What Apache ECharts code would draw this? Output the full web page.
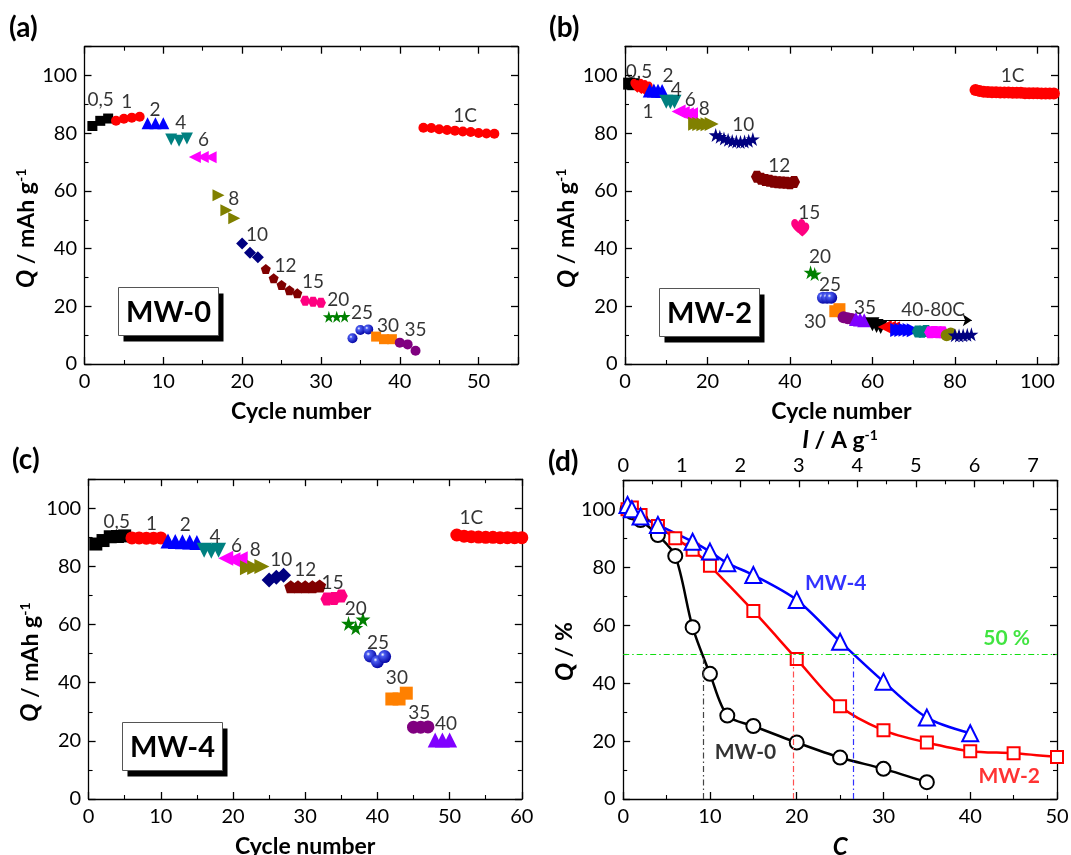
<!DOCTYPE html>
<html>
<head>
<meta charset="utf-8">
<title>Rate capability MW-0 / MW-2 / MW-4</title>
<script src="https://cdn.jsdelivr.net/npm/echarts@6/dist/echarts.min.js"></script>
<style>
  html, body { margin: 0; padding: 0; background: #fff; }
  #chart { width: 1071px; height: 855px; }
</style>
</head>
<body>
<div id="chart"></div>
<script>
// ---- values ----
// (a) MW-0 : first cycle of every rate step, capacities in mAh/g
const mw0Start = [1, 4, 8, 11, 14, 17, 20, 23, 28, 31, 34, 37, 40, 43];
const mw0Q = [
  [82.5, 84.3, 85.1],
  [84.3, 85.0, 85.4, 85.7],
  [83.5, 83.5, 83.5],
  [77.8, 77.4, 78.2],
  [71.8, 71.8, 71.7],
  [58.5, 53.3, 50.5],
  [41.8, 38.6, 37.0],
  [32.9, 29.7, 27.4, 25.6, 24.5],
  [21.9, 21.6, 21.2],
  [16.4, 16.4, 16.5],
  [8.9, 11.8, 12.0],
  [9.5, 8.6, 8.6],
  [7.4, 6.8, 4.6],
  [81.9, 81.8, 81.4, 81.1, 80.9, 80.6, 80.4, 80.1, 79.9, 79.8]
];
const mw0LabelText = ['0,5', '1', '2', '4', '6', '8', '10', '12', '15', '20', '25', '30', '35', '1C'];
const mw0LabelPos = [[2.05, 91.4], [5.35, 90.9], [8.94, 88.2], [12.2, 83.6], [15.1, 77.6], [18.95, 57.4],
  [21.9, 44.7], [25.5, 33.9], [29.0, 28.5], [32.2, 22.2], [35.2, 17.6], [38.5, 13.2], [42.0, 11.8], [48.3, 86.0]];

// (b) MW-2
const mw2Start = [1, 3, 6, 10, 13, 17, 22, 32, 42, 45, 48, 51, 53, 56, 60, 63, 66, 71, 74, 78, 80, 85];
const mw2Q = [
  [97.2, 97.0],
  [96.5, 96.0, 95.5],
  [94.8, 94.8, 94.7, 94.6],
  [90.9, 90.7, 90.9],
  [87.5, 87.0, 86.6, 86.6],
  [83.3, 83.2, 83.1, 83.1, 83.2],
  [79.4, 78.8, 78.2, 77.7, 77.3, 77.1, 77.0, 77.1, 77.4, 78.0],
  [64.9, 64.2, 63.8, 63.5, 63.2, 63.0, 62.9, 62.8, 62.7, 63.1],
  [47.8, 46.6],
  [31.8, 31.2],
  [23.0, 23.0, 23.0],
  [18.3, 19.0],
  [16.2, 15.9, 15.6],
  [15.6, 15.4, 15.2],
  [13.8, 13.2, 12.8],
  [12.8, 12.6, 12.4],
  [11.8, 11.8, 11.9, 11.8, 11.7],
  [11.3, 11.2, 11.4],
  [11.0, 11.1, 11.0, 11.0],
  [10.0, 10.6],
  [10.0, 9.9, 10.0, 10.1, 10.3],
  [95.0, 94.6, 94.4, 94.3, 94.2, 94.2, 94.1, 94.1, 94.1, 94.0, 94.0, 94.0, 93.9, 93.9, 93.9, 93.9, 93.8, 93.8, 93.8, 93.8]
];
const mw2LabelText = ['0,5', '1', '2', '4', '6', '8', '10', '12', '15', '20', '25', '30', '35', '40-80C', '1C'];
const mw2LabelPos = [[3.4, 101.3], [5.6, 87.4], [10.4, 100.0], [12.4, 95.0], [15.8, 91.7], [19.2, 88.6],
  [28.7, 82.8], [37.4, 68.6], [44.7, 52.4], [47.3, 37.2], [49.7, 27.4], [46.1, 14.7], [58.2, 19.4], [74.7, 18.7], [94.0, 99.8]];
const mw2Arrow = [[60.2, 15.2], [84.1, 15.2]];

// (c) MW-4
const mw4Start = [1, 6, 11, 16, 19, 22, 25, 28, 33, 36, 39, 42, 45, 48, 51];
const mw4Q = [
  [87.7, 88.9, 90.2, 90.3, 90.5],
  [89.8, 89.8, 89.7, 89.7, 89.8],
  [88.7, 88.6, 88.5, 88.4, 88.2],
  [85.6, 85.2, 85.6],
  [82.8, 82.3, 82.6],
  [79.5, 79.6, 80.0],
  [75.3, 76.3, 77.0],
  [73.0, 73.0, 73.0, 73.0, 73.3],
  [68.8, 69.0, 69.8],
  [60.4, 58.9, 61.8],
  [49.2, 47.2, 49.0],
  [34.4, 34.4, 36.4],
  [24.7, 24.7, 24.8],
  [20.3, 20.3, 20.3],
  [90.8, 90.4, 90.2, 90.1, 90.0, 90.0, 89.9, 89.9, 89.9, 89.9]
];
const mw4LabelText = ['0,5', '1', '2', '4', '6', '8', '10', '12', '15', '20', '25', '30', '35', '40', '1C'];
const mw4LabelPos = [[3.9, 95.4], [8.7, 94.8], [13.4, 94.3], [17.5, 90.2], [20.5, 87.0], [23.1, 85.7],
  [26.7, 82.4], [30.0, 78.8], [33.8, 74.2], [37.0, 65.3], [40.1, 53.6], [42.7, 41.7], [45.8, 29.7], [49.5, 25.8], [53.0, 96.6]];

// (d) retention (%) against C-rate
const dC0 = [0.5, 1, 2, 4, 6, 8, 10, 12, 15, 20, 25, 30, 35];
const dQ0 = [100, 99, 96.3, 91.1, 83.9, 59.3, 43.2, 28.8, 25.2, 19.5, 14.3, 10.4, 5.8];
const dC2 = [0.5, 1, 2, 4, 6, 8, 10, 15, 20, 25, 30, 35, 40, 45, 50];
const dQ2 = [100, 100.6, 98.0, 94.2, 90.0, 86.0, 80.5, 64.9, 48.3, 32.0, 23.7, 19.5, 16.5, 15.8, 14.5];
const dC4 = [0.5, 1, 2, 4, 8, 10, 12, 15, 20, 25, 30, 35, 40];
const dQ4 = [101.5, 100, 97.5, 94.6, 88.8, 85.4, 81.4, 77.3, 68.7, 54.3, 40.5, 28.1, 22.7];
const dHalf = 50;
const dHalfC = [9.2, 19.6, 26.5];   // MW-0, MW-2, MW-4 at 50 %
const dLabelText = ['MW-0', 'MW-2', 'MW-4', '50 %'];
const dLabelPos = [[14.1, 16.3], [44.5, 7.9], [24.5, 74.5], [44.2, 55.5]];

// ---- styles ----
const FONT = 'Lato, "Noto Sans", sans-serif';
const SYM = {
  rect: { symbol: 'rect' },
  circle: { symbol: 'circle' },
  up: { symbol: 'triangle', tri: true },
  down: { symbol: 'triangle', rotate: 180, tri: true },
  left: { symbol: 'triangle', rotate: 90, tri: true },
  right: { symbol: 'triangle', rotate: -90, tri: true },
  diamond: { symbol: 'diamond', tri: true },
  pent: { symbol: 'path://M50,0L98,35L79,92L21,92L2,35Z' },
  hex: { symbol: 'path://M25,0L75,0L100,50L75,100L25,100L0,50Z' },
  star: { symbol: 'path://M50,0L61,35L98,35L68,57L79,91L50,70L21,91L32,57L2,35L39,35Z', tri: true },
  heart: { symbol: 'path://M50,92C20,68 0,48 0,27C0,11 12,0 26,0C38,0 46,8 50,18C54,8 62,0 74,0C88,0 100,11 100,27C100,48 80,68 50,92Z', tri: true },
  sphere: { symbol: 'circle', sphere: true }
};
const mw0Marks = ['rect', 'circle', 'up', 'down', 'left', 'right', 'diamond', 'pent', 'hex', 'star', 'sphere', 'rect', 'circle', 'circle'];
const mw0Colors = ['#000000', '#ff0000', '#0000ff', '#008080', '#ff00ff', '#808000', '#000080', '#800000', '#ff0080', '#008000', '#0000a0', '#ff8000', '#800080', '#ff0000'];
const mw2Marks = ['rect', 'heart', 'up', 'down', 'left', 'right', 'star', 'hex', 'heart', 'star', 'sphere', 'rect', 'circle', 'up',
  'down', 'left', 'right', 'hex', 'hex', 'circle', 'star', 'circle'];
const mw2Colors = ['#000000', '#ff0000', '#0000ff', '#008080', '#ff00ff', '#808000', '#000080', '#800000', '#ff0080', '#008000', '#0000a0', '#ff8000', '#800080', '#8000ff',
  '#000000', '#ff0000', '#0000ff', '#008080', '#ff00ff', '#808000', '#000080', '#ff0000'];
const mw4Marks = ['rect', 'circle', 'up', 'down', 'left', 'right', 'diamond', 'pent', 'hex', 'star', 'sphere', 'rect', 'circle', 'up', 'circle'];
const mw4Colors = ['#000000', '#ff0000', '#0000ff', '#008080', '#ff00ff', '#808000', '#000080', '#800000', '#ff0080', '#008000', '#0000a0', '#ff8000', '#800080', '#8000ff', '#ff0000'];

function sphereFill(c) {
  return { type: 'radial', x: 0.35, y: 0.35, r: 0.7,
    colorStops: [{ offset: 0, color: '#ffffff' }, { offset: 0.22, color: '#4a5cf0' }, { offset: 1, color: c }] };
}

function groupSeries(g, starts, qs, marks, colors, size) {
  return qs.map((vals, i) => {
    const m = SYM[marks[i]];
    return {
      type: 'scatter', xAxisIndex: 2 * g, yAxisIndex: 2 * g, silent: true, z: 3,
      symbol: m.symbol, symbolRotate: m.rotate || 0, symbolSize: m.tri ? size + 2 : size,
      itemStyle: { color: m.sphere ? sphereFill(colors[i]) : colors[i], opacity: 1 },
      data: vals.map((q, k) => [starts[i] + k, q])
    };
  });
}

function textSeries(g, texts, pos, size, bold, colors, markLine) {
  return {
    type: 'scatter', xAxisIndex: 2 * g, yAxisIndex: 2 * g, silent: true, z: 6,
    symbolSize: 1, itemStyle: { color: 'rgba(0,0,0,0)' },
    label: { show: true, position: 'inside', formatter: '{b}', fontFamily: FONT, fontSize: size,
      fontWeight: bold ? 'bold' : 'normal', color: '#000' },
    emphasis: { disabled: true },
    data: pos.map((p, i) => {
      const d = { name: texts[i], value: p };
      if (colors) d.label = { color: colors[i] };
      return d;
    }),
    markLine: markLine
  };
}

function fmt(itv) {
  return v => Math.abs(v / itv - Math.round(v / itv)) < 1e-6 ? String(Math.round(v)) : '';
}

function valueAxis(g, position, range, withLabels, margin) {
  return {
    type: 'value', gridIndex: g, position: position,
    min: range[0], max: range[1], interval: range[2],
    axisLine: { show: true, onZero: false, lineStyle: { color: '#000', width: 1.3 } },
    axisTick: { show: true, inside: true, length: 7, lineStyle: { color: '#000', width: 1.3 } },
    minorTick: { show: true, splitNumber: 2, length: 4, lineStyle: { color: '#000', width: 1.1 } },
    splitLine: { show: false },
    minorSplitLine: { show: false },
    axisLabel: withLabels
      ? { show: true, margin: margin || 7.5, fontFamily: FONT, fontSize: 20, color: '#000', formatter: fmt(range[2]) }
      : { show: false },
    axisPointer: { show: false }
  };
}

const nameStyle = {
  fontFamily: FONT, fontSize: 23, fontWeight: 'bold', color: '#000',
  rich: {
    it: { fontFamily: FONT, fontSize: 24, fontWeight: 'bold', fontStyle: 'italic', color: '#000' },
    s: { fontFamily: FONT, fontSize: 14, fontWeight: 'bold', color: '#000', verticalAlign: 'top' }
  }
};
function withName(ax, name, gap, pad) {
  ax.name = name;
  ax.nameLocation = 'middle';
  ax.nameGap = gap;
  ax.nameTextStyle = Object.assign({}, nameStyle, pad ? { padding: pad } : {});
  return ax;
}

const cycleRanges = [[0, 55, 10], [0, 105, 20], [0, 60, 10], [0, 50, 10]];
const qRange = [0, 110, 20];
const currentRange = [0, 7.41, 1];

const xAxes = [];
const yAxes = [];
for (let g = 0; g < 4; g++) {
  const bottom = valueAxis(g, 'bottom', cycleRanges[g], true);
  withName(bottom, g === 3 ? '{it|C}' : 'Cycle number', 36);
  xAxes.push(bottom);
  if (g === 3) {
    const top = valueAxis(g, 'top', currentRange, true, 5);
    withName(top, '{it|I} / A g{s|-1}', 28);
    xAxes.push(top);
  } else {
    xAxes.push(valueAxis(g, 'top', cycleRanges[g], false));
  }
  const left = valueAxis(g, 'left', qRange, true);
  if (g === 3) withName(left, '{it|Q} / %', 42, [0, 24, 0, 0]);
  else withName(left, '{it|Q} / mAh g{s|-1}', 37, [0, 46, 0, 0]);
  left.nameRotate = 90;
  yAxes.push(left);
  yAxes.push(valueAxis(g, 'right', qRange, false));
}

const dashDot = [6, 3, 1.5, 3];
function vLine(c, color) {
  return [{ coord: [c, 0], lineStyle: { color: color, type: dashDot, width: 1.2 } }, { coord: [c, dHalf] }];
}
function retention(cs, qs, color, symbol, size, cross, crossColor) {
  return {
    type: 'line', xAxisIndex: 6, yAxisIndex: 6, silent: true, z: 4,
    smooth: 0.3, symbol: symbol, symbolSize: size, showAllSymbol: true,
    lineStyle: { color: color, width: 2.5 },
    itemStyle: { color: color, borderColor: color, borderWidth: 2 },
    data: cs.map((c, i) => [c, qs[i]]),
    markLine: { silent: true, symbol: 'none', label: { show: false }, animation: false, data: [vLine(cross, crossColor)] }
  };
}

const series = []
  .concat(groupSeries(0, mw0Start, mw0Q, mw0Marks, mw0Colors, 10))
  .concat(groupSeries(1, mw2Start, mw2Q, mw2Marks, mw2Colors, 12))
  .concat(groupSeries(2, mw4Start, mw4Q, mw4Marks, mw4Colors, 13))
  .concat([
    textSeries(0, mw0LabelText, mw0LabelPos, 19, false),
    textSeries(1, mw2LabelText, mw2LabelPos, 19, false, null, {
      silent: true, symbol: ['none', 'arrow'], symbolSize: 9, label: { show: false }, animation: false,
      lineStyle: { color: '#000', width: 1, type: 'solid' },
      data: [[{ coord: mw2Arrow[0] }, { coord: mw2Arrow[1] }]]
    }),
    textSeries(2, mw4LabelText, mw4LabelPos, 19, false),
    retention(dC0, dQ0, '#000000', 'emptyCircle', 14, dHalfC[0], '#444444'),
    retention(dC2, dQ2, '#ff0000', 'emptyRect', 12, dHalfC[1], '#ff5050'),
    retention(dC4, dQ4, '#0000ff', 'emptyTriangle', 16, dHalfC[2], '#3030ff'),
    textSeries(3, dLabelText, dLabelPos, 21, true, ['#000000', '#ff0000', '#0000ff', '#11dd11'], {
      silent: true, symbol: 'none', label: { show: false }, animation: false,
      lineStyle: { color: '#11dd11', width: 1.2, type: dashDot },
      data: [[{ coord: [0, dHalf] }, { coord: [50, dHalf] }]]
    })
  ]);

function box(x, y, text) {
  return {
    type: 'group', left: x, top: y, silent: true, z: 10,
    children: [
      { type: 'rect', shape: { x: 5, y: 6, width: 100, height: 48 }, style: { fill: '#000' } },
      { type: 'rect', shape: { x: 0, y: 0, width: 100, height: 48 }, style: { fill: '#fff', stroke: '#555', lineWidth: 1 } },
      { type: 'text', style: { text: text, x: 50, y: 25, align: 'center', verticalAlign: 'middle', font: 'bold 29px ' + FONT, fill: '#000' } }
    ]
  };
}
function panelTag(x, y, text) {
  return { type: 'text', left: x, top: y, silent: true,
    style: { text: text, font: 'bold 28px ' + FONT, fill: '#000' } };
}

const chart = echarts.init(document.getElementById('chart'));
chart.setOption({
  animation: false,
  backgroundColor: '#ffffff',
  grid: [
    { left: 84.5, top: 46.7, width: 433.5, height: 317.3, containLabel: false, outerBoundsMode: 'none' },
    { left: 625, top: 46.7, width: 433, height: 317.3, containLabel: false, outerBoundsMode: 'none' },
    { left: 88.6, top: 479.2, width: 433.2, height: 319.8, containLabel: false, outerBoundsMode: 'none' },
    { left: 623.2, top: 480.3, width: 433.8, height: 318.7, containLabel: false, outerBoundsMode: 'none' }
  ],
  xAxis: xAxes,
  yAxis: yAxes,
  series: series,
  graphic: [
    panelTag(9, 14, '(a)'),
    panelTag(549, 14, '(b)'),
    panelTag(12, 446, '(c)'),
    panelTag(548, 448, '(d)'),
    box(118, 287, 'MW-0'),
    box(659, 288, 'MW-2'),
    box(122, 722, 'MW-4')
  ]
});
</script>
</body>
</html>
